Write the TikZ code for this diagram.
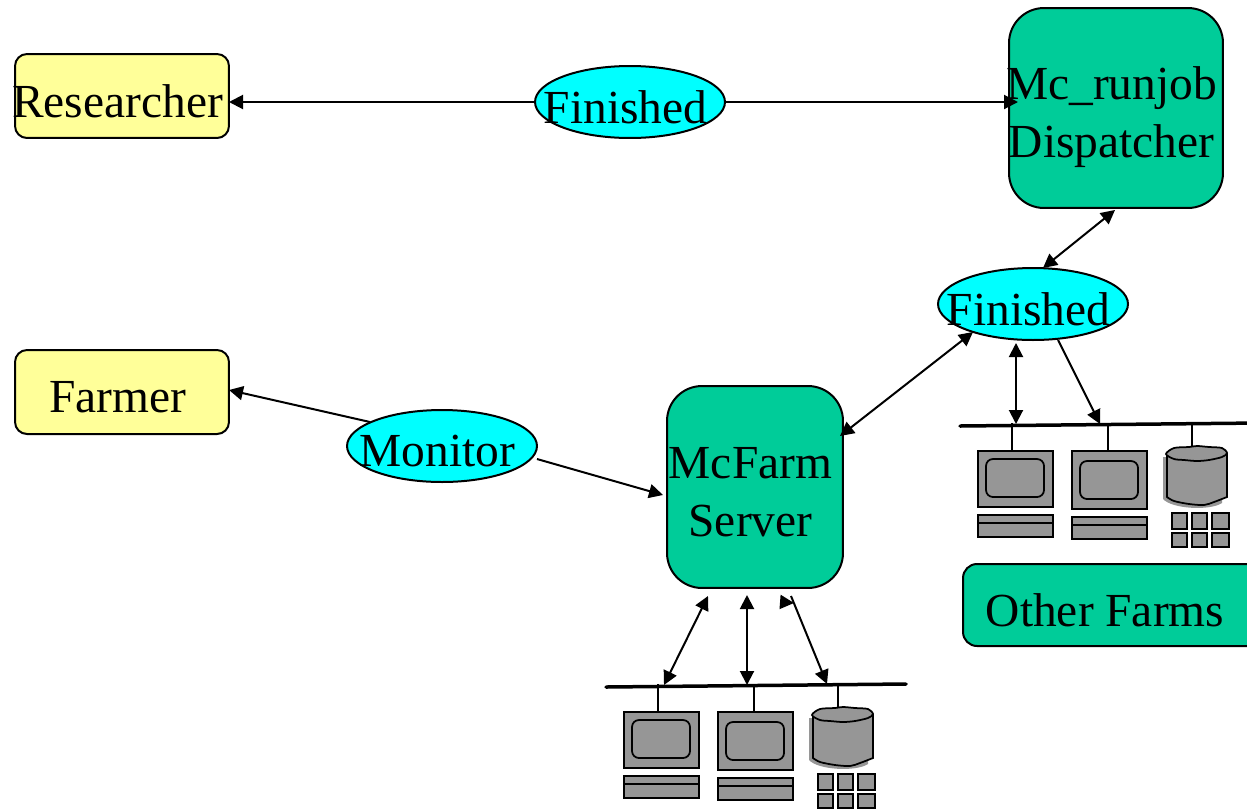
\documentclass[tikz,border=0pt]{standalone}
\usepackage{fontspec}
\setmainfont[Kerning=Off]{Liberation Serif}
\usetikzlibrary{arrows.meta,shapes.geometric}
\definecolor{boxyellow}{HTML}{FFFF99}
\definecolor{boxgreen}{HTML}{00CC99}
\definecolor{msgcyan}{HTML}{00FFFF}
\definecolor{unitgray}{HTML}{969696}
% the texts sit a little left of and below the middle of their shapes
\newcommand{\nudge}[2][.1cm]{\raisebox{-#1}[\height][\depth]{\hspace*{-.09cm}#2\hspace*{.09cm}}}
\newcommand{\twolines}[2]{\begin{tabular}{@{}c@{}}#1\\#2\end{tabular}}
\tikzset{
  userbox/.style={draw, rounded corners=.24cm, fill=boxyellow, minimum width=4.28cm, minimum height=1.68cm, inner sep=0pt},
  farmbox/.style={draw, rounded corners=.7cm, fill=boxgreen, inner sep=0pt},
  msg/.style={draw, ellipse, fill=msgcyan, minimum width=3.8cm, minimum height=1.44cm, inner sep=0pt},
  unit/.style={draw, fill=unitgray, line width=.035cm},
  farmunits/.pic={
    \draw[line width=.07cm, line cap=round] (0,1) -- (300,-2);
    \foreach \x in {52,148,232}
      \draw[line width=.035cm] (\x,-2) -- (\x,26);
    % monitors and keyboards
    \foreach \x/\d in {18/0,112/2}{
      \draw[unit] (\x,26) rectangle ++(75,56+\d);
      \draw[unit, rounded corners=.14cm] (\x+8,34+\d) rectangle ++(58,38);
      \draw[unit] (\x,90+\d) rectangle ++(75,22);
      \draw[line width=.035cm] (\x,98+\d) -- ++(75,0);
    }
    % disk
    \fill[unitgray] (203,32) -- (203,74) .. controls (212,84) and (250,86) .. (262,78) -- (262,32) -- cycle;
    \draw[unit] (207,28) -- plot[smooth] coordinates {(207,72) (214,76) (229,79) (244,80) (254,77) (267,72)} -- (267,28);
    \draw[unit] plot[smooth cycle] coordinates {(206,29) (214,23) (229,22) (237,21) (249,22) (262,23) (267,28) (262,32) (249,35) (237,36) (224,35) (214,34)};
    % keypad
    \foreach \x/\w in {212/15,232/15,252/17}
      \foreach \y/\h in {88/16,108/14}
        \draw[unit] (\x,\y) rectangle ++(\w,\h);
  }
}
\begin{document}
\begin{tikzpicture}[x=.02cm,y=-.02cm,line width=.04cm,>={Triangle[length=.28cm,width=.28cm]}]
  \useasboundingbox (0,0) rectangle (1247,809);
  \fontsize{27}{33}\selectfont

  \node[userbox] (researcher) at (122,96) {\nudge{Researcher}};
  \node[userbox] (farmer) at (122,392) {\nudge{Farmer}};

  \node[farmbox, minimum width=4.28cm, minimum height=4cm] (dispatcher) at (1116,108) {\nudge[.18cm]{\twolines{Mc\_runjob}{Dispatcher}}};
  \node[farmbox, minimum width=3.52cm, minimum height=4.04cm] (server) at (755,487) {\nudge[.18cm]{\twolines{McFarm}{Server}}};
  \node[farmbox, rounded corners=.28cm, minimum width=6cm, minimum height=1.64cm] (others) at (1113,605) {\nudge{Other Farms\hspace*{.14cm}}};

  \node[msg] (finished1) at (630,102) {\makebox[0pt]{\nudge{Finished}}};
  \node[msg] (finished2) at (1033,304) {\makebox[0pt]{\nudge{Finished}}};
  \node[msg] (monitor) at (442,446) {\makebox[0pt]{\nudge{Monitor}}};

  % free ends of the connectors
  \coordinate (r1) at (229,102);
  \coordinate (d1) at (1018,102);
  \coordinate (d2) at (1115,210);
  \coordinate (f1) at (1043,268);
  \coordinate (f2) at (973,332);
  \coordinate (f3) at (1016,343);
  \coordinate (f4) at (1058,340);
  \coordinate (s1) at (840,436);
  \coordinate (s2) at (663,495);
  \coordinate (s3) at (708,596);
  \coordinate (s4) at (747,595);
  \coordinate (s5) at (791,596);
  \coordinate (s6) at (781,602);
  \coordinate (s7) at (794,603);
  \coordinate (a1) at (229,390);
  \coordinate (m1) at (370,422);
  \coordinate (m2) at (537,459);
  \coordinate (b1) at (664,685);
  \coordinate (b2) at (747,685);
  \coordinate (b3) at (827,684);
  \coordinate (b4) at (1016,424);
  \coordinate (b5) at (1100,424);

  \pic at (606,686) {farmunits};
  \pic at (960,425) {farmunits};

  \foreach \from/\to in {finished1.west/r1, finished1.east/d1, m1/a1, m2/s2, f4/b5, s5/b3, s6/s7}
    \draw (\from) edge[->] (\to);

  \foreach \from/\to in {d2/f1, f2/s1, f3/b4, s3/b1, s4/b2}
    \draw (\from) edge[<->] (\to);
\end{tikzpicture}
\end{document}
